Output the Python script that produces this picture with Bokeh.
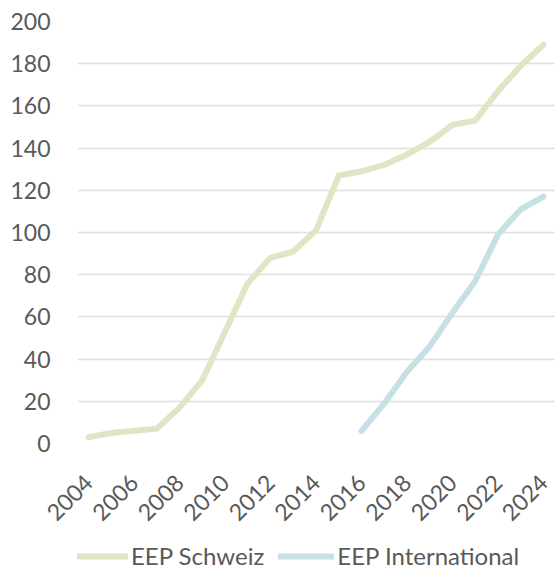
import math
from bokeh.plotting import figure
from bokeh.layouts import column
from bokeh.models import Range1d, Legend, LegendItem, FixedTicker
from bokeh.embed import file_html
from bokeh.resources import INLINE

years_ch = list(range(2004, 2025))
eep_schweiz = [3, 5, 6, 7, 17, 30, 53, 76, 88, 91, 101, 127, 129, 132, 137, 143, 151, 153, 167, 179, 189]
years_int = list(range(2016, 2025))
eep_international = [6, 19, 34, 46, 62, 77, 99, 111, 117]
y_ticks = list(range(0, 201, 20))
x_ticks = list(range(2004, 2025, 2))
series_names = ["EEP Schweiz", "EEP International"]
series_colors = ["#e0e6c5", "#c6e1e6"]

FONT = "Lato"
TXT = "#595959"

p = figure(width=555, height=538, output_backend="svg", toolbar_location=None,
           x_range=Range1d(2003.5165, 2024.527), y_range=Range1d(0, 200),
           min_border_left=77, min_border_right=0, min_border_top=21, min_border_bottom=95)
p.outline_line_color = None
p.background_fill_color = "white"
p.border_fill_color = "white"

p.line(years_ch, eep_schweiz, line_color=series_colors[0], line_width=6, line_cap="round", line_join="round")
p.line(years_int, eep_international, line_color=series_colors[1], line_width=6, line_cap="round", line_join="round")

p.xgrid.grid_line_color = None
p.ygrid.grid_line_color = "#e0e0e0"
p.ygrid.grid_line_width = 1.5
p.ygrid.ticker = FixedTicker(ticks=y_ticks)

p.yaxis.ticker = FixedTicker(ticks=y_ticks)
p.xaxis.ticker = FixedTicker(ticks=x_ticks)
for ax in (p.xaxis[0], p.yaxis[0]):
    ax.axis_line_color = None
    ax.major_tick_line_color = None
    ax.minor_tick_line_color = None
    ax.major_label_text_font = FONT
    ax.major_label_text_font_size = "23px"
    ax.major_label_text_color = TXT
p.yaxis.major_label_standoff = 21
p.xaxis.major_label_standoff = 29
p.xaxis.major_label_orientation = math.pi / 4

# legend strip below the chart (series drawn outside its view, so only the legend shows)
lg = figure(width=555, height=32, output_backend="svg", toolbar_location=None,
            x_axis_location=None, y_axis_location=None,
            x_range=Range1d(0, 1), y_range=Range1d(0, 1),
            min_border_left=0, min_border_right=0, min_border_top=0, min_border_bottom=0)
lg.outline_line_color = None
lg.grid.visible = False
lr1 = lg.line(years_ch, eep_schweiz, line_color=series_colors[0], line_width=6, line_cap="round")
lr2 = lg.line(years_int, eep_international, line_color=series_colors[1], line_width=6, line_cap="round")
legend = Legend(items=[LegendItem(label=series_names[0], renderers=[lr1]),
                       LegendItem(label=series_names[1], renderers=[lr2])],
                orientation="horizontal", location=(-5, 0),
                label_text_font=FONT, label_text_font_size="24px", label_text_color=TXT,
                glyph_width=56, glyph_height=24, spacing=14, label_standoff=3,
                border_line_color=None, background_fill_alpha=0, padding=0, margin=0)
lg.add_layout(legend, "center")

layout = column(p, lg, spacing=0)
open("out.html", "w").write(file_html(layout, INLINE))
